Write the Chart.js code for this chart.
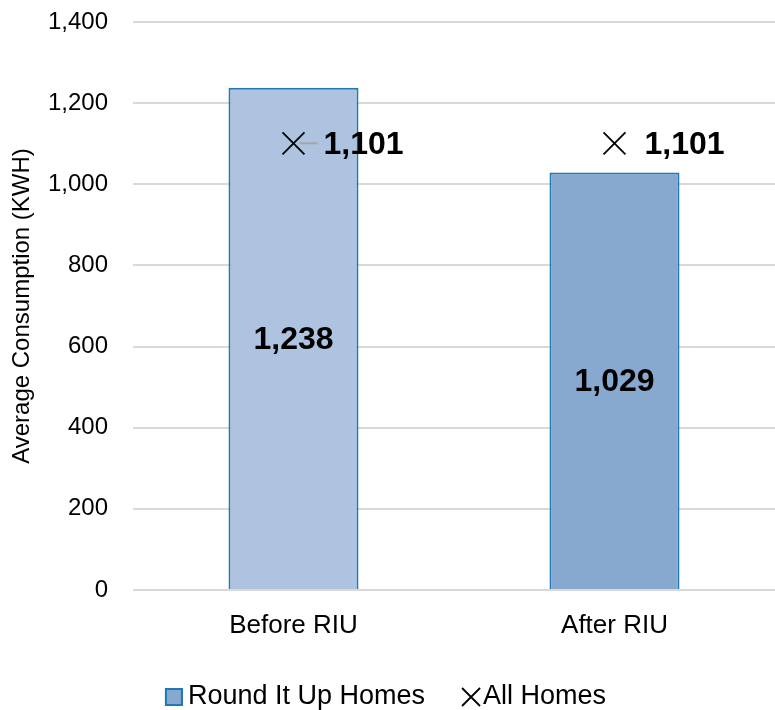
<!DOCTYPE html>
<html>
<head>
<meta charset="utf-8">
<script src="https://cdn.jsdelivr.net/npm/chart.js@4.4.1/dist/chart.umd.min.js"></script>
<style>
  html, body { margin: 0; padding: 0; background: #ffffff; }
  #wrap { width: 775px; height: 710px; position: relative; }
</style>
</head>
<body>
<div id="wrap"><canvas id="chart" width="775" height="710"></canvas></div>
<script>
// Average monthly consumption before and after joining Round It Up
const categories = ['Before RIU', 'After RIU'];
const riuHomes = [1238, 1029];
const allHomes = [1101, 1101];
const yTicks = [0, 200, 400, 600, 800, 1000, 1200, 1400];

const barFill = ['#adc3e0', '#87a8cf'];
const barEdge = '#1f7ab4';
const fontFamily = '"Liberation Sans", Arial, sans-serif';
const fmt = v => v.toLocaleString('en-US');

// Bold value labels: centred inside each bar, and to the right of each cross marker
const valueLabels = {
  id: 'valueLabels',
  afterDatasetsDraw(chart) {
    const ctx = chart.ctx;
    ctx.save();
    ctx.fillStyle = '#000000';
    ctx.font = 'bold 32px ' + fontFamily;
    ctx.textBaseline = 'middle';
    const y = chart.scales.y;
    chart.getDatasetMeta(0).data.forEach((bar, i) => {
      ctx.textAlign = 'center';
      ctx.fillText(fmt(riuHomes[i]), bar.x, y.getPixelForValue(riuHomes[i] / 2) + 1);
    });
    chart.getDatasetMeta(1).data.forEach((pt, i) => {
      if (i === 0) {
        // short leader line from the first marker to its label
        ctx.strokeStyle = '#a6a6a6';
        ctx.lineWidth = 2;
        ctx.beginPath();
        ctx.moveTo(pt.x + 6, pt.y);
        ctx.lineTo(pt.x + 24, pt.y);
        ctx.stroke();
      }
      ctx.textAlign = 'left';
      ctx.fillText(fmt(allHomes[i]), pt.x + 30, pt.y + 2);
    });
    ctx.restore();
  }
};

// Legend row under the axis: square swatch for the bars, cross for the markers
const bottomLegend = {
  id: 'bottomLegend',
  afterDraw(chart) {
    const ctx = chart.ctx;
    const ds = chart.data.datasets;
    ctx.save();
    ctx.font = '27px ' + fontFamily;
    ctx.textBaseline = 'middle';
    ctx.textAlign = 'left';
    const sw = 18, gapA = 5, gapMid = 37, gapB = 3;
    const w0 = ctx.measureText(ds[0].label).width;
    const w1 = ctx.measureText(ds[1].label).width;
    const total = sw + gapA + w0 + gapMid + sw + gapB + w1;
    let x = chart.width / 2 - total / 2 - 2;
    const cy = 697;
    // swatch
    ctx.fillStyle = barFill[1];
    ctx.fillRect(x, cy - sw / 2, sw, sw);
    ctx.strokeStyle = barEdge;
    ctx.lineWidth = 2;
    ctx.strokeRect(x + 1, cy - sw / 2 + 1, sw - 2, sw - 2);
    x += sw + gapA;
    ctx.fillStyle = '#000000';
    ctx.fillText(ds[0].label, x, cy);
    x += w0 + gapMid;
    // cross
    ctx.strokeStyle = '#000000';
    ctx.lineWidth = 1.8;
    ctx.beginPath();
    ctx.moveTo(x, cy - sw / 2); ctx.lineTo(x + sw, cy + sw / 2);
    ctx.moveTo(x + sw, cy - sw / 2); ctx.lineTo(x, cy + sw / 2);
    ctx.stroke();
    x += sw + gapB;
    ctx.fillText(ds[1].label, x, cy);
    ctx.restore();
  }
};

// Keep the scales from reserving extra room for half-overhanging tick labels
const noScalePad = axis => {
  axis.paddingTop = 0;
  axis.paddingBottom = 0;
  axis.paddingLeft = 0;
  axis.paddingRight = 0;
};

new Chart(document.getElementById('chart'), {
  type: 'bar',
  data: {
    labels: categories,
    datasets: [
      {
        label: 'Round It Up Homes',
        data: riuHomes,
        backgroundColor: barFill,
        borderColor: barEdge,
        borderWidth: 2,
        barPercentage: 0.405,
        categoryPercentage: 1.0,
        order: 2
      },
      {
        type: 'line',
        label: 'All Homes',
        data: allHomes,
        showLine: false,
        pointStyle: 'crossRot',
        pointRadius: 15.5,
        pointHoverRadius: 15.5,
        pointBorderWidth: 1.8,
        borderColor: '#000000',
        backgroundColor: '#000000',
        clip: false,
        order: 1
      }
    ]
  },
  options: {
    responsive: false,
    animation: false,
    devicePixelRatio: 1,
    layout: { autoPadding: false, padding: { top: 22, right: 0, bottom: 0, left: 8 } },
    scales: {
      x: {
        offset: true,
        afterFit: axis => { axis.height = 120; noScalePad(axis); },
        grid: { display: false },
        border: { display: false },
        ticks: {
          color: '#000000',
          font: { family: fontFamily, size: 26 },
          padding: 12
        }
      },
      y: {
        min: 0,
        max: 1400,
        afterBuildTicks: axis => { axis.ticks = yTicks.map(v => ({ value: v })); },
        afterFit: axis => { axis.width = 125; noScalePad(axis); },
        grid: { color: '#d9d9d9', lineWidth: 2, drawTicks: false },
        border: { display: false },
        ticks: {
          color: '#000000',
          padding: 25,
          font: { family: fontFamily, size: 24 },
          callback: v => fmt(v)
        },
        title: {
          display: true,
          text: 'Average Consumption (KWH)',
          color: '#000000',
          font: { family: fontFamily, size: 24 },
          padding: { top: 0, bottom: 0 }
        }
      }
    },
    plugins: {
      tooltip: { enabled: false },
      legend: { display: false }
    }
  },
  plugins: [valueLabels, bottomLegend]
});
</script>
</body>
</html>
